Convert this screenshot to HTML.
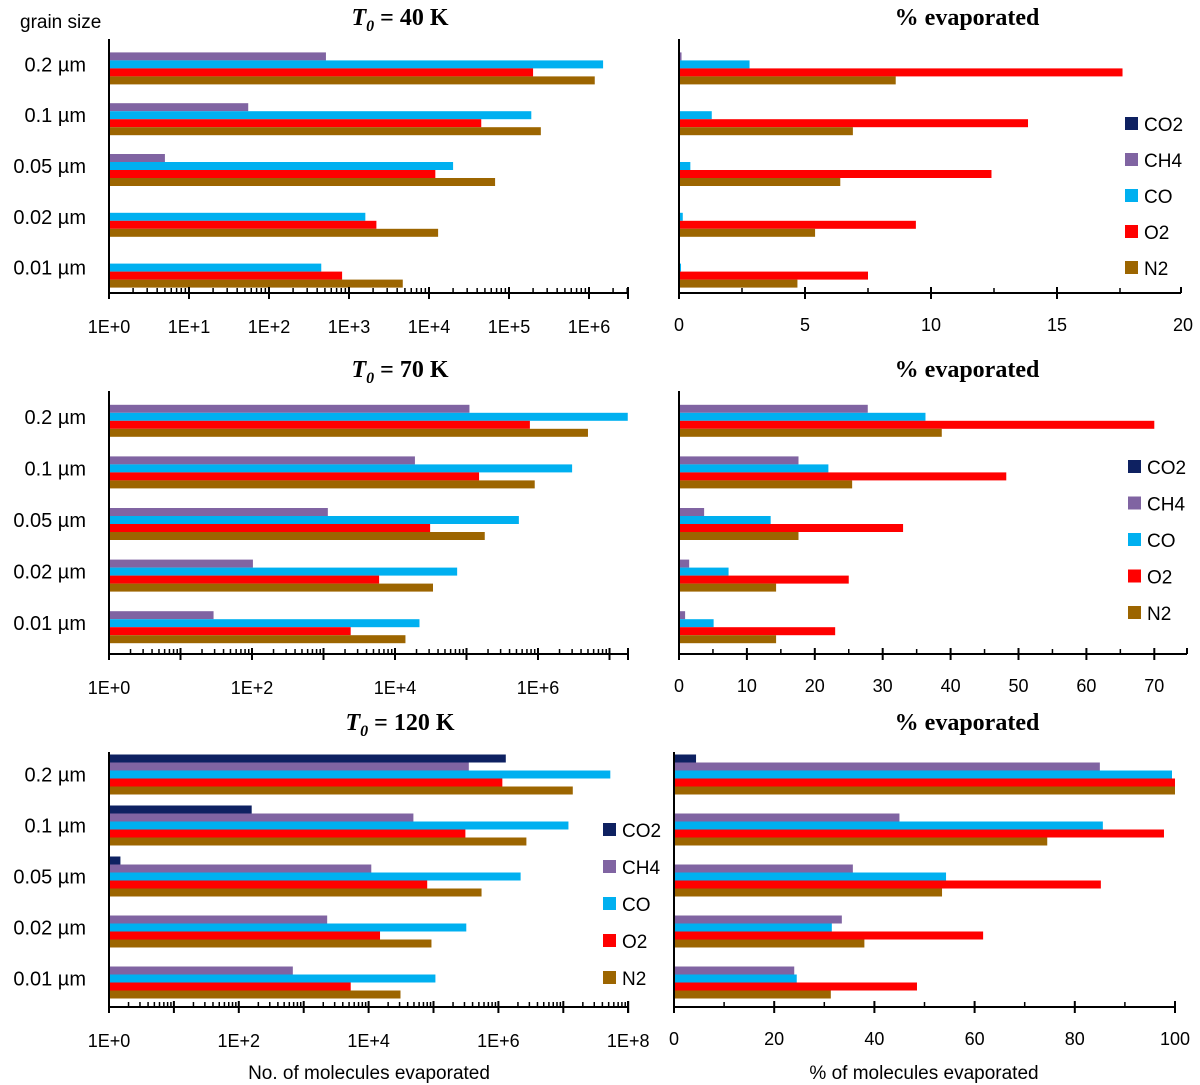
<!DOCTYPE html>
<html><head><meta charset="utf-8">
<style>
html,body{margin:0;padding:0;background:#fff;}
svg{display:block;}
</style></head>
<body>
<svg id="chart" width="1200" height="1085" xmlns="http://www.w3.org/2000/svg" font-family="Liberation Sans, sans-serif"></svg>
<script>
// ---- data ----
const categories = ["0.2 µm","0.1 µm","0.05 µm","0.02 µm","0.01 µm"];
const species = ["CO2","CH4","CO","O2","N2"];
const colors = {CO2:"#0e2161",CH4:"#8064a2",CO:"#00b0f0",O2:"#ff0000",N2:"#9c6500"};
// T0 = 40 K, molecules
const n40_CO2 = [0,0,0,0,0];
const n40_CH4 = [515,55,5,0,0];
const n40_CO  = [1.5e6,1.9e5,2e4,1600,450];
const n40_O2  = [2e5,4.5e4,1.2e4,2200,820];
const n40_N2  = [1.18e6,2.5e5,6.7e4,1.3e4,4700];
// T0 = 40 K, percent
const p40_CO2 = [0,0,0,0,0];
const p40_CH4 = [0.1,0,0,0,0];
const p40_CO  = [2.8,1.3,0.45,0.15,0.08];
const p40_O2  = [17.6,13.85,12.4,9.4,7.5];
const p40_N2  = [8.6,6.9,6.4,5.4,4.7];
// T0 = 70 K
const n70_CO2 = [0,0,0,0,0];
const n70_CH4 = [1.1e5,1.9e4,1150,103,29];
const n70_CO  = [1.8e7,3e6,5.4e5,7.4e4,2.2e4];
const n70_O2  = [7.7e5,1.5e5,3.1e4,6000,2400];
const n70_N2  = [5e6,9e5,1.8e5,3.4e4,1.4e4];
const p70_CO2 = [0,0,0,0,0];
const p70_CH4 = [27.8,17.6,3.7,1.5,0.9];
const p70_CO  = [36.3,22,13.5,7.3,5.1];
const p70_O2  = [70,48.2,33,25,23];
const p70_N2  = [38.7,25.5,17.6,14.3,14.3];
// T0 = 120 K
const n120_CO2 = [1.3e6,158,1.5,0,0];
const n120_CH4 = [3.5e5,4.9e4,1.1e4,2300,680];
const n120_CO  = [5.3e7,1.2e7,2.2e6,3.2e5,1.07e5];
const n120_O2  = [1.15e6,3.1e5,8e4,1.5e4,5300];
const n120_N2  = [1.4e7,2.7e6,5.5e5,9.3e4,3.1e4];
const p120_CO2 = [4.4,0,0,0,0];
const p120_CH4 = [85,45,35.7,33.5,24];
const p120_CO  = [99.4,85.6,54.3,31.5,24.5];
const p120_O2  = [100,97.8,85.2,61.7,48.5];
const p120_N2  = [100,74.5,53.5,38,31.3];
const logTickLabels40 = ["1E+0","1E+1","1E+2","1E+3","1E+4","1E+5","1E+6"];
const logTickLabels70 = ["1E+0","1E+2","1E+4","1E+6"];
const logTickLabels120 = ["1E+0","1E+2","1E+4","1E+6","1E+8"];
const pctTicks40 = [0,5,10,15,20];
const pctTicks70 = [0,10,20,30,40,50,60,70];
const pctTicks120 = [0,20,40,60,80,100];

const NS="http://www.w3.org/2000/svg";
const svg=document.getElementById('chart');
function mk(tag,attrs,parent){const e=document.createElementNS(NS,tag);for(const k in attrs)e.setAttribute(k,attrs[k]);(parent||svg).appendChild(e);return e;}

function panel(cfg){
  const g=mk('g',{});
  
  
  const {x0,x1,top,bot}=cfg;
  const ay=cfg.axisY||bot;
  const atop=cfg.axisTop||top;
  const grp=(bot-top)/categories.length;
  const bh=8;
  const xs = cfg.log ? (v=>x0+Math.log10(v)*cfg.ppu) : (v=>x0+v*cfg.ppu);
  const series=cfg.series;
  categories.forEach((c,i)=>{
    const gy=top+i*grp+(grp-5*bh)/2;
    species.forEach((s,j)=>{
      const v=series[s][i];
      if(!(v>0))return;
      const xe=Math.min(xs(v),x1);
      if(xe<=x0)return;
      const r=mk('rect',{x:x0,y:gy+j*bh,width:xe-x0,height:bh,fill:colors[s]},g);
      
      
    });
    if(cfg.catLabels){
      const t=mk('text',{x:86,y:top+i*grp+grp/2+7,'text-anchor':'end','font-size':20,fill:'#000'},g);
      t.textContent=c;
      
      
    }
  });
  mk('line',{x1:x0,y1:atop,x2:x0,y2:ay,stroke:'#000','stroke-width':2},g);
  mk('line',{x1:x0,y1:ay,x2:x1,y2:ay,stroke:'#000','stroke-width':2},g);
  if(cfg.log){
    const dec=(x1-x0)/cfg.ppu;
    for(let d=0;d<=Math.ceil(dec);d++){
      const xm=x0+d*cfg.ppu;
      if(xm<=x1+1) mk('line',{x1:xm,y1:ay-6,x2:xm,y2:ay+6,stroke:'#000','stroke-width':2},g);
      for(let m=2;m<=9;m++){const xx=x0+(d+Math.log10(m))*cfg.ppu; if(xx<x1) mk('line',{x1:xx,y1:ay-5,x2:xx,y2:ay,stroke:'#000','stroke-width':1.5},g);}
    }
    mk('line',{x1:x1,y1:ay-6,x2:x1,y2:ay+6,stroke:'#000','stroke-width':2},g);
    cfg.labels.forEach((l,k)=>{
      const t=mk('text',{x:x0+k*cfg.step*cfg.ppu,y:ay+40,'text-anchor':'middle','font-size':18,fill:'#000'},g);
      t.textContent=l;
      
      
    });
  } else {
    const ticks=cfg.ticks, st=ticks[1]-ticks[0];
    for(let v=0;x0+v*cfg.ppu<=x1+1;v+=st/2){
      const xx=xs(v), major=(Math.round(v/st*2)%2===0);
      mk('line',{x1:xx,y1:ay-(major?6:5),x2:xx,y2:major?ay+6:ay,stroke:'#000','stroke-width':major?2:1.5},g);
    }
    mk('line',{x1:x1,y1:ay-6,x2:x1,y2:ay,stroke:'#000','stroke-width':2},g);
    ticks.forEach(v=>{
      const t=mk('text',{x:xs(v),y:ay+38,'text-anchor':'middle','font-size':18,fill:'#000'},g);
      t.textContent=v;
      
      
    });
  }
  if(cfg.title){
    const t=mk('text',{x:cfg.tx,y:cfg.ty,'text-anchor':'middle','font-size':24,'font-weight':'bold','font-family':'Liberation Serif, serif',fill:'#000'},g);
    if(cfg.T){
      const a=mk('tspan',{'font-style':'italic'},t);a.textContent='T';
      const b=mk('tspan',{'font-size':16,dy:6,'font-style':'italic'},t);b.textContent='0';
      const c=mk('tspan',{dy:-6},t);c.textContent=' = '+cfg.title;
    } else t.textContent=cfg.title;
    
    
  }
  if(cfg.legend){
    species.forEach((s,k)=>{
      const y=cfg.legend.y+k*cfg.legend.dy;
      const lg=mk('g',{},g);
      
      
      mk('rect',{x:cfg.legend.x,y:y-7,width:13,height:13,fill:colors[s]},lg);
      const t=mk('text',{x:cfg.legend.x+19,y:y+7,'font-size':19,fill:'#000'},lg);t.textContent=s;
    });
  }
}
function S(a,b,c,d,e){return {CO2:a,CH4:b,CO:c,O2:d,N2:e};}

panel({name:'panel-40k-molecules',x0:109,x1:628,top:39,bot:293,log:true,ppu:80,step:1,labels:logTickLabels40,series:S(n40_CO2,n40_CH4,n40_CO,n40_O2,n40_N2),catLabels:true,title:'40 K',T:true,tx:400,ty:25});
panel({name:'panel-40k-percent',x0:679,x1:1181,top:39,bot:293,log:false,ppu:25.2,ticks:pctTicks40,series:S(p40_CO2,p40_CH4,p40_CO,p40_O2,p40_N2),title:'% evaporated',tx:967,ty:25,legend:{x:1125,y:124,dy:36}});
panel({name:'panel-70k-molecules',x0:109,x1:628,top:391,bot:649,axisY:654,log:true,ppu:71.5,step:2,labels:logTickLabels70,series:S(n70_CO2,n70_CH4,n70_CO,n70_O2,n70_N2),catLabels:true,title:'70 K',T:true,tx:400,ty:377});
panel({name:'panel-70k-percent',x0:679,x1:1187,top:391,bot:649,axisY:654,log:false,ppu:6.79,ticks:pctTicks70,series:S(p70_CO2,p70_CH4,p70_CO,p70_O2,p70_N2),title:'% evaporated',tx:967,ty:377,legend:{x:1128,y:467,dy:36.5}});
panel({name:'panel-120k-molecules',x0:109,x1:628,top:749,bot:1004,axisY:1007,axisTop:752,log:true,ppu:64.9,step:2,labels:logTickLabels120,series:S(n120_CO2,n120_CH4,n120_CO,n120_O2,n120_N2),catLabels:true,title:'120 K',T:true,tx:400,ty:730,legend:{x:603,y:830,dy:37}});
panel({name:'panel-120k-percent',x0:674,x1:1175,top:749,bot:1004,axisY:1007,axisTop:752,log:false,ppu:5.01,ticks:pctTicks120,series:S(p120_CO2,p120_CH4,p120_CO,p120_O2,p120_N2),title:'% evaporated',tx:967,ty:730});

function label(txt,x,y,size,name,anchor){const t=mk('text',{x:x,y:y,'text-anchor':anchor||'middle','font-size':size,fill:'#000'});t.textContent=txt;}
label('grain size',20,28,19,'y-axis-title','start');
label('No. of molecules evaporated',369,1079,19,'x-axis-title-molecules');
label('% of molecules evaporated',924,1079,19,'x-axis-title-percent');
</script>
</body></html>
